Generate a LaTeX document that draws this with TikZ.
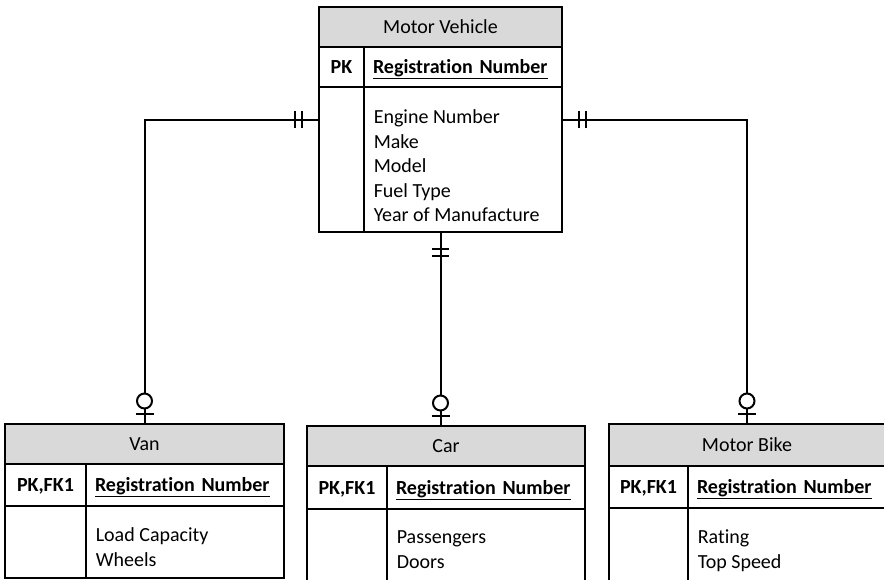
\documentclass[tikz,border=0pt]{standalone}
\usepackage{fontspec}
\setmainfont[Ligatures={NoCommon}]{Carlito}
\usetikzlibrary{positioning}
\usetikzlibrary{decorations.markings}
\definecolor{hdrgray}{RGB}{217,217,217}
\tikzstyle{entity}=[rectangle,draw=black,fill=hdrgray,inner sep=0mm,outer sep=0mm,anchor=north west,text height=13pt,text depth=0pt]
\tikzstyle{keycol}=[rectangle,draw=black,inner sep=0mm,outer sep=0mm,anchor=north west,text height=13pt,text depth=0pt]
\tikzstyle{keyname}=[keycol,align=left,inner xsep=9pt,text width=#1]
\tikzstyle{attrs}=[align=left,inner sep=0mm,anchor=north west]
\tikzstyle{rel}=[line width=2pt]
\tikzstyle{onlyone}=[postaction={decorate,decoration={markings,
    mark=at position 17pt with {\draw[line width=2pt] (0,-8.5pt)--(0,8.5pt);},
    mark=at position 24pt with {\draw[line width=2pt] (0,-8.5pt)--(0,8.5pt);}}}]
\tikzstyle{zeroone}=[postaction={decorate,decoration={markings,
    mark=at position -10pt with {\draw[line width=2pt] (0,-9pt)--(0,9pt);},
    mark=at position -23pt with {\draw[line width=2pt,fill=white] (0,0) circle (7.5pt);}}}]
\tikzset{every picture/.style={
    line width=1.6pt
  }
}

\begin{document}
\begin{tikzpicture}[x=1pt,y=-1pt,every node/.style={font=\fontsize{20}{24.5}\selectfont}]
      \useasboundingbox (0,0) rectangle (884,580);
      % motor vehicle
      \node[entity, minimum width=243pt, minimum height=40pt] at (319,7) (mv) {Motor Vehicle};
      \node[keycol, minimum width=45pt, minimum height=40pt] at (mv.south west) (mvpk) {\textbf{PK}};
      \node[keyname=180pt, minimum height=40pt] at (mvpk.north east) (mvkey) {\textbf{\underline{Registration Number}}};
      \node[keycol, minimum width=45pt, minimum height=145pt] at (mvpk.south west) (mvfill) {};
      \node[keycol, minimum width=198pt, minimum height=145pt] at (mvfill.north east) (mvbody) {};
      \node[attrs, below right=22pt and 9pt of mvbody.north west] (mvattr) {Engine Number\\Make\\Model\\Fuel Type\\Year of Manufacture};
      % van
      \node[entity, minimum width=279pt, minimum height=40pt] at (5,424) (van) {Van};
      \node[keycol, minimum width=81pt, minimum height=42pt] at (van.south west) (vanpk) {\textbf{PK,FK1}};
      \node[keyname=180pt, minimum height=42pt] at (vanpk.north east) (vankey) {\textbf{\underline{Registration Number}}};
      \node[keycol, minimum width=81pt, minimum height=72pt] at (vanpk.south west) (vanfill) {};
      \node[keycol, minimum width=198pt, minimum height=72pt] at (vanfill.north east) (vanbody) {};
      \node[attrs, below right=21pt and 9pt of vanbody.north west] (vanattr) {Load Capacity\\Wheels};
      % car
      \node[entity, minimum width=278pt, minimum height=40pt] at (307,426) (car) {Car};
      \node[keycol, minimum width=80pt, minimum height=43pt] at (car.south west) (carpk) {\textbf{PK,FK1}};
      \node[keyname=180pt, minimum height=43pt] at (carpk.north east) (carkey) {\textbf{\underline{Registration Number}}};
      \node[keycol, minimum width=80pt, minimum height=76pt] at (carpk.south west) (carfill) {};
      \node[keycol, minimum width=198pt, minimum height=76pt] at (carfill.north east) (carbody) {};
      \node[attrs, below right=21pt and 9pt of carbody.north west] (carattr) {Passengers\\Doors};
      % motor bike
      \node[entity, minimum width=276pt, minimum height=42pt] at (609,424) (bike) {Motor Bike};
      \node[keycol, minimum width=79pt, minimum height=42pt] at (bike.south west) (bikepk) {\textbf{PK,FK1}};
      \node[keyname=179pt, minimum height=42pt] at (bikepk.north east) (bikekey) {\textbf{\underline{Registration Number}}};
      \node[keycol, minimum width=79pt, minimum height=76pt] at (bikepk.south west) (bikefill) {};
      \node[keycol, minimum width=197pt, minimum height=76pt] at (bikefill.north east) (bikebody) {};
      \node[attrs, below right=21pt and 9pt of bikebody.north west] (bikeattr) {Rating\\Top Speed};
      % relationships
      \draw[rel, onlyone, zeroone] ([yshift=-33pt]mvfill.north west) -| (van.north);
      \draw[rel, onlyone, zeroone] (mv.south |- mvbody.south) -- (mv.south |- car.north);
      \draw[rel, onlyone, zeroone] ([yshift=-33pt]mvbody.north east) -| (bike.north);
    \end{tikzpicture}
\end{document}
